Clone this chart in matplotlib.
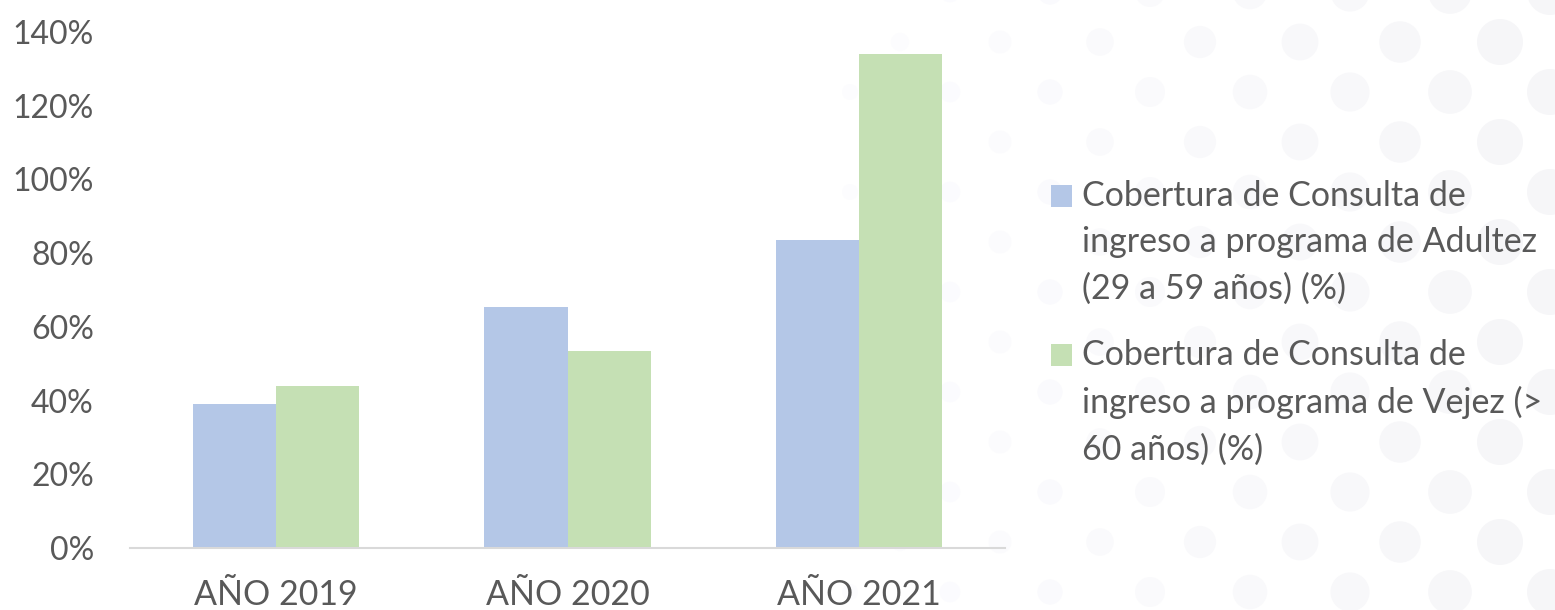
import numpy as np
import matplotlib
matplotlib.use("Agg")
import matplotlib.pyplot as plt
from matplotlib.patches import Circle, Rectangle

# ---- data ----
categories = ["AÑO 2019", "AÑO 2020", "AÑO 2021"]
adultez = [0.39, 0.654, 0.835]
vejez = [0.44, 0.534, 1.34]
series_labels = [
    "Cobertura de Consulta de\ningreso a programa de Adultez\n(29 a 59 años) (%)",
    "Cobertura de Consulta de\ningreso a programa de Vejez (>\n60 años) (%)",
]
yticks = [0, 0.2, 0.4, 0.6, 0.8, 1.0, 1.2, 1.4]
ytick_labels = ["0%", "20%", "40%", "60%", "80%", "100%", "120%", "140%"]

BLUE = "#B4C7E7"
GREEN = "#C5E0B4"
TEXT = "#595959"
FONT = "Lato"
FS_Y = 23
FS = 24.5

plt.rcParams["font.family"] = [FONT, "DejaVu Sans"]

W, H = 1555, 610
fig = plt.figure(figsize=(W / 100, H / 100), dpi=100)
fig.patch.set_facecolor("white")

# ---- decorative background dots ----
bg = fig.add_axes([0, 0, 1, 1], zorder=0)
bg.set_xlim(0, W)
bg.set_ylim(H, 0)
bg.axis("off")
xs = np.arange(850, W + 60, 50)
ys = np.arange(-8, H + 60, 50)
for i, xx in enumerate(xs):
    for j, yy in enumerate(ys):
        if (i + j) % 2:
            continue
        t = np.clip((xx - 850) / 650, 0, 1)
        r = 8 + 15 * t
        c = 1 - (0.01 + 0.025 * t)
        bg.add_patch(Circle((xx, yy), r, color=(c, c, min(1, c + 0.008)), lw=0))

# ---- main axes ----
ax = fig.add_axes([130 / W, (H - 548) / H, 875 / W, (548 - 32) / H], zorder=1)
ax.patch.set_alpha(0)
x = np.arange(len(categories))
bw = 0.285
ax.bar(x - bw / 2, adultez, bw, color=BLUE, label=series_labels[0])
ax.bar(x + bw / 2, vejez, bw, color=GREEN, label=series_labels[1])
ax.set_xlim(-0.5, len(categories) - 0.5)
ax.set_ylim(0, 1.4)
ax.set_yticks(yticks)
ax.set_yticklabels(ytick_labels)
ax.set_xticks(x)
ax.set_xticklabels(categories)
for s in ["top", "right", "left"]:
    ax.spines[s].set_visible(False)
ax.spines["bottom"].set_color("#D9D9D9")
ax.spines["bottom"].set_linewidth(1.5)
ax.tick_params(axis="both", length=0, labelcolor=TEXT)
ax.tick_params(axis="y", pad=26, labelsize=FS_Y)
ax.tick_params(axis="x", pad=22, labelsize=FS)

# ---- legend (square aligned with first line of wrapped label) ----
leg_colors = [BLUE, GREEN]
leg_tops = [180, 339]  # pixel y of first text line top
for lab, col, top in zip(series_labels, leg_colors, leg_tops):
    fig.text(1082 / W, 1 - top / H, lab, ha="left", va="top", fontsize=FS,
             color=TEXT, linespacing=1.55)
    fig.patches.append(Rectangle((1051 / W, 1 - (top + 27) / H), 21 / W, 22 / H,
                                 transform=fig.transFigure, facecolor=col,
                                 edgecolor="none", zorder=2))

fig.savefig("out.png", dpi=100, facecolor="white")
